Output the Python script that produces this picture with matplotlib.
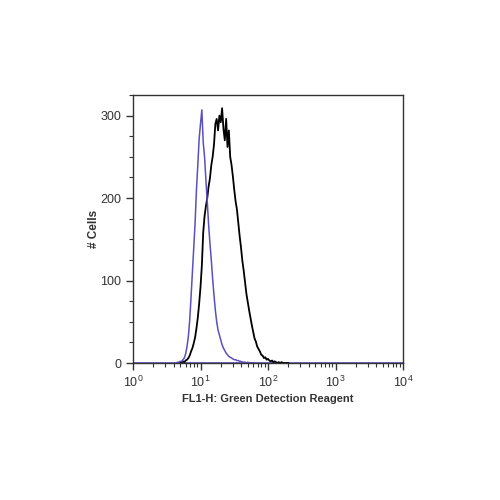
import numpy as np
import matplotlib.pyplot as plt
from matplotlib.ticker import MultipleLocator, LogLocator, NullFormatter

plt.rcParams['font.family'] = ['Liberation Sans', 'DejaVu Sans']

# log10 channel positions (step 0.02)
black_start, blue_start, step = 0.70, 0.64, 0.02

# stained sample (black)
black_counts = [0, 1, 2, 1, 3, 4, 6, 9, 14, 18, 24, 31, 42, 55, 72, 92, 118, 158,
                178, 190, 200, 214, 224, 240, 250, 265, 290, 296, 282, 300, 292,
                309, 284, 270, 296, 262, 282, 250, 240, 226, 210, 196, 186, 170,
                154, 140, 124, 112, 98, 84, 74, 64, 55, 46, 38, 30, 26, 20, 17,
                14, 10, 9, 6, 7, 4, 5, 3, 2, 3, 1, 2, 1, 0, 1, 0, 1, 0, 0, 0, 0, 0]

# control (blue)
blue_counts = [0, 1, 1, 2, 2, 4, 6, 11, 20, 32, 52, 80, 110, 140, 170, 210, 240,
               272, 290, 307, 268, 250, 222, 196, 168, 145, 125, 102, 82, 64, 50,
               40, 34, 28, 22, 18, 15, 12, 10, 8, 7, 6, 5, 4, 4, 3, 3, 2, 2, 1,
               1, 1, 0, 1, 0, 0, 0, 0, 0]

black_x = 10 ** (black_start + step * np.arange(len(black_counts)))
blue_x = 10 ** (blue_start + step * np.arange(len(blue_counts)))

fig = plt.figure(figsize=(5, 5), dpi=100)
ax = fig.add_axes([0.266, 0.274, 0.54, 0.536])

ax.hlines(0, 1, 1e4, color='#5a50c0', lw=1.2)
ax.plot(black_x, black_counts, color='black', lw=1.3)
ax.plot(blue_x, blue_counts, color='#5a50c0', lw=1.1)

ax.set_xscale('log')
ax.set_xlim(1, 1e4)
ax.set_ylim(0, 325)
ax.yaxis.set_major_locator(MultipleLocator(100))
ax.yaxis.set_minor_locator(MultipleLocator(25))
ax.xaxis.set_major_locator(LogLocator(base=10, numticks=10))
ax.xaxis.set_minor_locator(LogLocator(base=10, subs=np.arange(2, 10), numticks=10))
ax.xaxis.set_minor_formatter(NullFormatter())

for s in ax.spines.values():
    s.set_color('#333333')
    s.set_linewidth(1.0)
ax.tick_params(which='major', direction='out', length=5, width=1, colors='#333333',
               labelsize=9, labelcolor='#333333')
ax.tick_params(which='minor', direction='out', length=3, width=0.8, colors='#333333')

ax.set_ylabel('# Cells', fontsize=8.5, fontweight='bold', color='#333333', labelpad=0)
ax.set_xlabel('FL1-H: Green Detection Reagent', fontsize=8, fontweight='bold',
              color='#333333', labelpad=3)

fig.savefig('out.png', dpi=100)
